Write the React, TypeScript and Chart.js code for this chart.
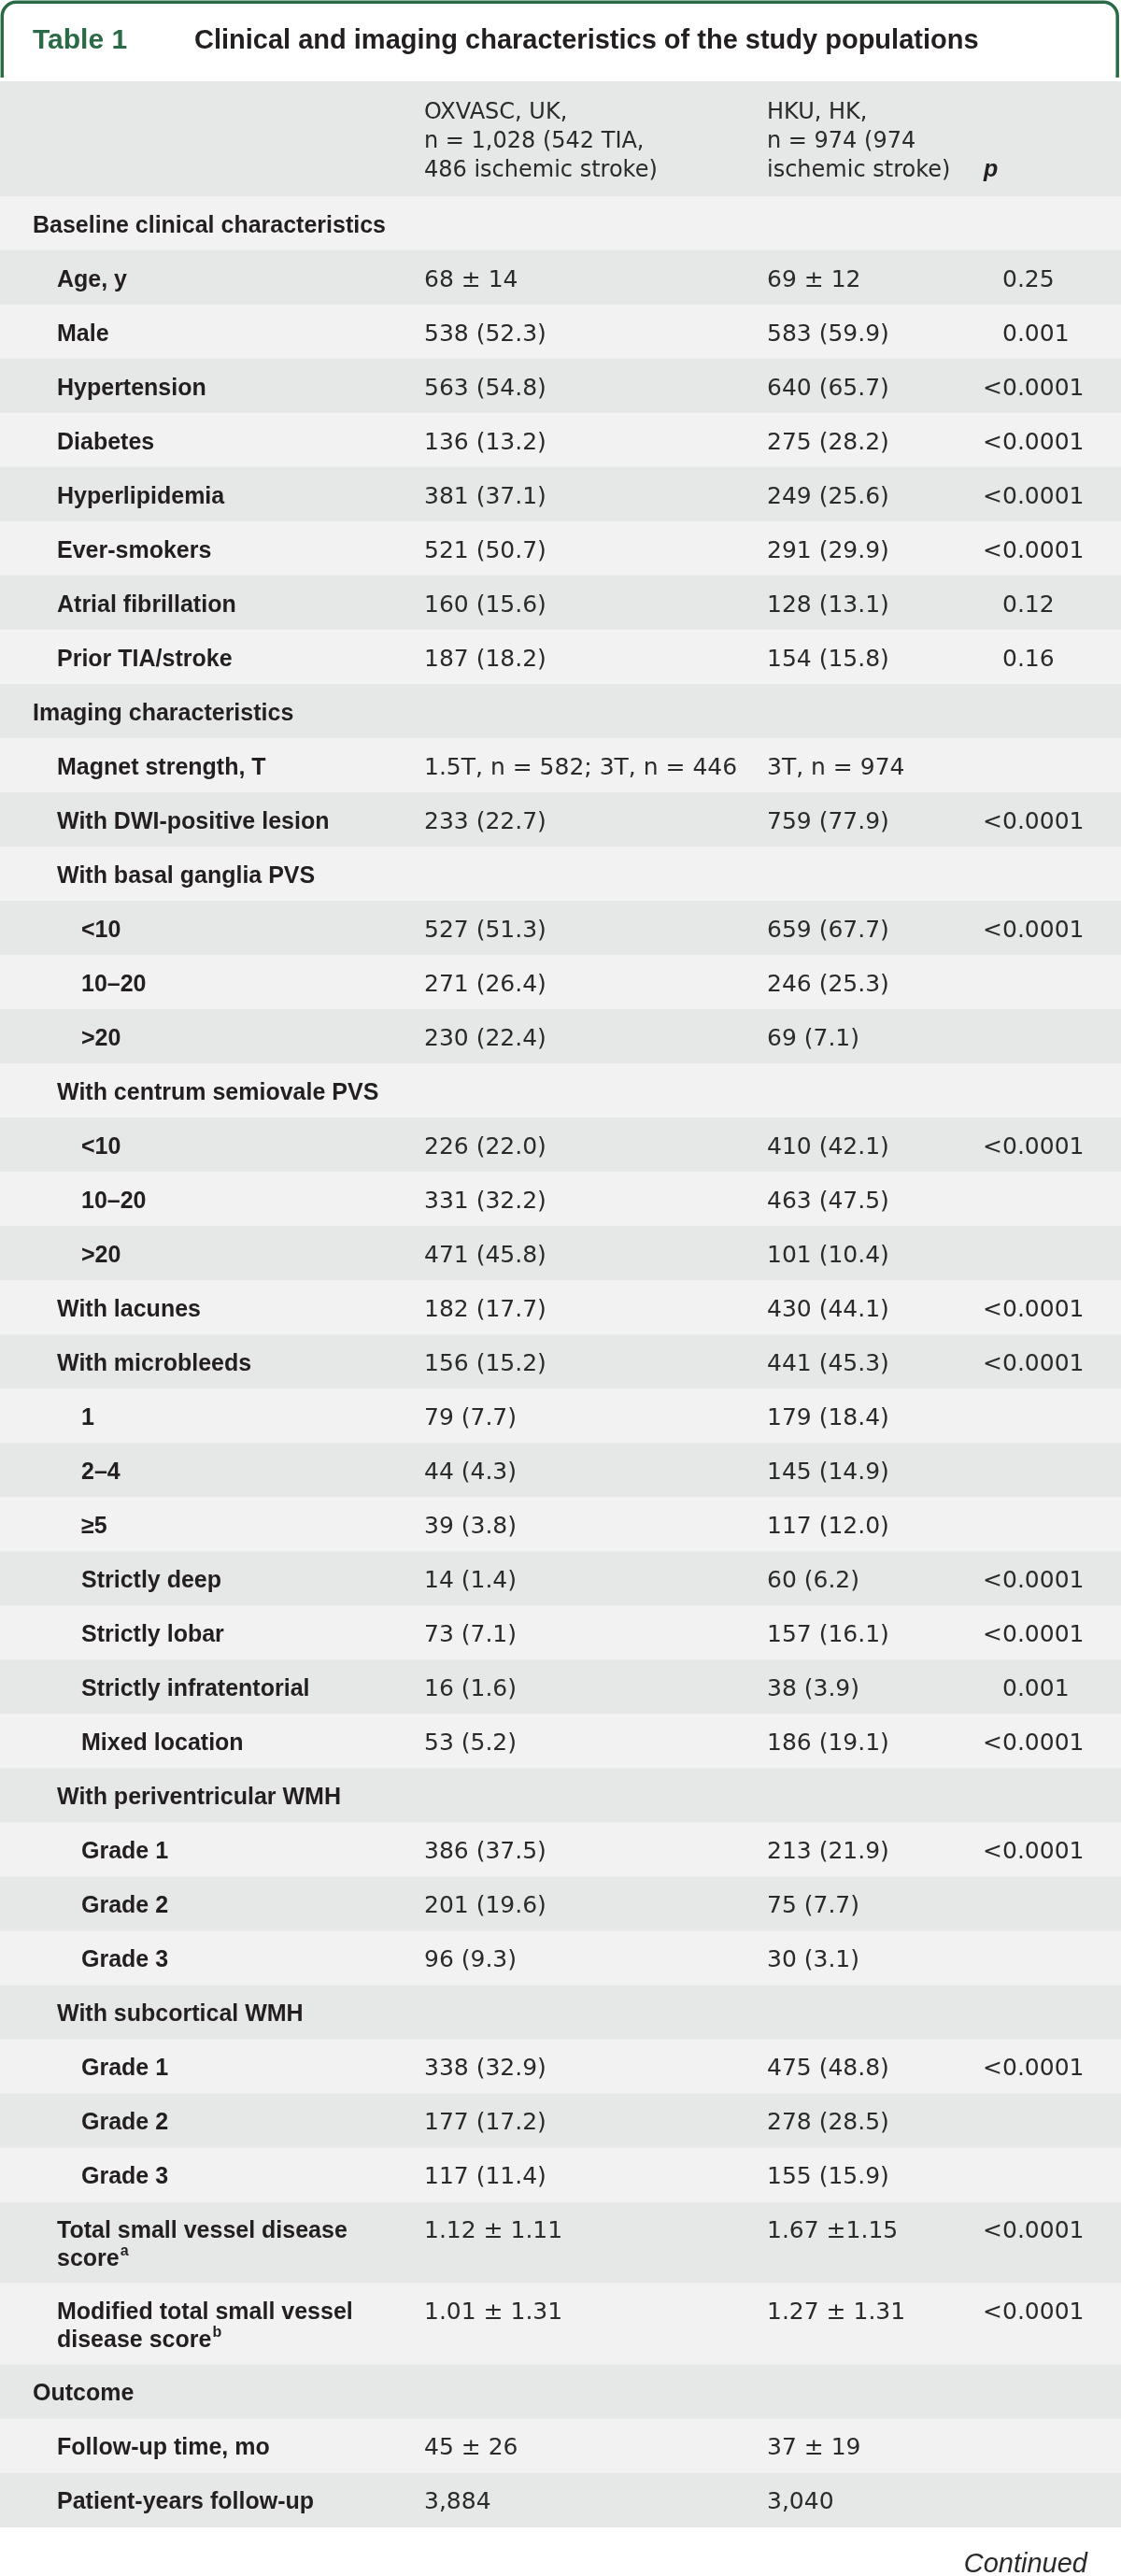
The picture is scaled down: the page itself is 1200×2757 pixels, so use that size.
import React, { useEffect, useRef } from "react";
import { Chart, registerables } from "chart.js";

Chart.register(...registerables);

// ---------------- data ----------------
const tableNumber = "Table 1";
const tableTitle = "Clinical and imaging characteristics of the study populations";
const headerOxvasc = ["OXVASC, UK,", "n = 1,028 (542 TIA,", "486 ischemic stroke)"];
const headerHku = ["HKU, HK,", "n = 974 (974", "ischemic stroke)"];
const headerP = "p";
const continuedNote = "Continued";

const rowLabels = [
  "Baseline clinical characteristics",
  "Age, y",
  "Male",
  "Hypertension",
  "Diabetes",
  "Hyperlipidemia",
  "Ever-smokers",
  "Atrial fibrillation",
  "Prior TIA/stroke",
  "Imaging characteristics",
  "Magnet strength, T",
  "With DWI-positive lesion",
  "With basal ganglia PVS",
  "<10",
  "10–20",
  ">20",
  "With centrum semiovale PVS",
  "<10",
  "10–20",
  ">20",
  "With lacunes",
  "With microbleeds",
  "1",
  "2–4",
  "≥5",
  "Strictly deep",
  "Strictly lobar",
  "Strictly infratentorial",
  "Mixed location",
  "With periventricular WMH",
  "Grade 1",
  "Grade 2",
  "Grade 3",
  "With subcortical WMH",
  "Grade 1",
  "Grade 2",
  "Grade 3",
  "Total small vessel disease\nscore",
  "Modified total small vessel\ndisease score",
  "Outcome",
  "Follow-up time, mo",
  "Patient-years follow-up",
];

// 0 = section heading, 1 = variable, 2 = sub-category
const rowLevels = [
  0, 1, 1, 1, 1, 1, 1, 1, 1,
  0, 1, 1, 1, 2, 2, 2, 1, 2, 2, 2, 1, 1, 2, 2, 2, 2, 2, 2, 2,
  1, 2, 2, 2, 1, 2, 2, 2, 1, 1,
  0, 1, 1,
];

const footnoteMarks: Record<string, string> = {
  "Total small vessel disease\nscore": "a",
  "Modified total small vessel\ndisease score": "b",
};

const oxvascValues = [
  "", "68 ± 14", "538 (52.3)", "563 (54.8)", "136 (13.2)", "381 (37.1)", "521 (50.7)", "160 (15.6)", "187 (18.2)",
  "", "1.5T, n = 582; 3T, n = 446", "233 (22.7)", "", "527 (51.3)", "271 (26.4)", "230 (22.4)",
  "", "226 (22.0)", "331 (32.2)", "471 (45.8)", "182 (17.7)", "156 (15.2)", "79 (7.7)", "44 (4.3)", "39 (3.8)",
  "14 (1.4)", "73 (7.1)", "16 (1.6)", "53 (5.2)",
  "", "386 (37.5)", "201 (19.6)", "96 (9.3)", "", "338 (32.9)", "177 (17.2)", "117 (11.4)",
  "1.12 ± 1.11", "1.01 ± 1.31", "", "45 ± 26", "3,884",
];

const hkuValues = [
  "", "69 ± 12", "583 (59.9)", "640 (65.7)", "275 (28.2)", "249 (25.6)", "291 (29.9)", "128 (13.1)", "154 (15.8)",
  "", "3T, n = 974", "759 (77.9)", "", "659 (67.7)", "246 (25.3)", "69 (7.1)",
  "", "410 (42.1)", "463 (47.5)", "101 (10.4)", "430 (44.1)", "441 (45.3)", "179 (18.4)", "145 (14.9)", "117 (12.0)",
  "60 (6.2)", "157 (16.1)", "38 (3.9)", "186 (19.1)",
  "", "213 (21.9)", "75 (7.7)", "30 (3.1)", "", "475 (48.8)", "278 (28.5)", "155 (15.9)",
  "1.67 ±1.15", "1.27 ± 1.31", "", "37 ± 19", "3,040",
];

const pValues = [
  "", "0.25", "0.001", "<0.0001", "<0.0001", "<0.0001", "<0.0001", "0.12", "0.16",
  "", "", "<0.0001", "", "<0.0001", "", "",
  "", "<0.0001", "", "", "<0.0001", "<0.0001", "", "", "",
  "<0.0001", "<0.0001", "0.001", "<0.0001",
  "", "<0.0001", "", "", "", "<0.0001", "", "",
  "<0.0001", "<0.0001", "", "", "",
];

// ---------------- layout / style ----------------
const W = 1200;
const H = 2757;
const HEADER_TOP = 87;
const BODY_TOP = 210;
const BODY_BOTTOM = 2705;

const GREEN = "#2b6a47";
const DARK_ROW = "#e6e7e7";
const LIGHT_ROW = "#f2f2f2";
const TEXT = "#231f20";
const VALUE_TEXT = "#2a2a2a";

const LABEL_FONT = 'bold 25px "Liberation Sans", Arial, sans-serif';
const NOTE_FONT = 'bold 16px "Liberation Sans", Arial, sans-serif';
const VALUE_FONT = '25px "DejaVu Sans", sans-serif';
const HEADER_FONT = '24px "DejaVu Sans", sans-serif';
const LABEL_X = [35, 61, 87];
const COL2_X = 454;
const COL3_X = 821;
const P_X = 1073;
const P_HEAD_X = 1053;

// row geometry derived from the number of text lines (half-line units)
const lineCounts = rowLabels.map((l) => l.split("\n").length);
const rowUnits = lineCounts.map((n) => n + 1);
const rowStarts: number[] = [];
let accUnits = 0;
for (const u of rowUnits) {
  rowStarts.push(accUnits);
  accUnits += u;
}
const totalUnits = accUnits;
const UNIT_PX = (BODY_BOTTOM - BODY_TOP) / totalUnits;

const tablePlugin = {
  id: "tableText",
  beforeDatasetsDraw(chart: any) {
    const ctx: CanvasRenderingContext2D = chart.ctx;
    ctx.save();
    // column header band
    ctx.fillStyle = DARK_ROW;
    ctx.fillRect(0, HEADER_TOP, W, BODY_TOP - HEADER_TOP);

    // green frame around the title
    ctx.strokeStyle = GREEN;
    ctx.lineWidth = 3.5;
    const l = 2.3, r = 1196.2, t = 2.3, b = 83, rad = 15;
    ctx.beginPath();
    ctx.moveTo(l, b);
    ctx.lineTo(l, t + rad);
    ctx.arcTo(l, t, l + rad, t, rad);
    ctx.lineTo(r - rad, t);
    ctx.arcTo(r, t, r, t + rad, rad);
    ctx.lineTo(r, b);
    ctx.stroke();

    // title
    ctx.textBaseline = "alphabetic";
    ctx.textAlign = "left";
    ctx.fillStyle = GREEN;
    ctx.font = 'bold 30px "Liberation Sans", Arial, sans-serif';
    ctx.fillText(tableNumber, 35, 52);
    ctx.fillStyle = TEXT;
    ctx.font = 'bold 29px "Liberation Sans", Arial, sans-serif';
    ctx.fillText(tableTitle, 208, 52);

    // column headers
    ctx.font = HEADER_FONT;
    ctx.fillStyle = VALUE_TEXT;
    const hb = [127, 158, 189];
    headerOxvasc.forEach((s, k) => ctx.fillText(s, COL2_X, hb[k]));
    headerHku.forEach((s, k) => ctx.fillText(s, COL3_X, hb[k]));
    ctx.font = 'italic bold 25px "Liberation Sans", Arial, sans-serif';
    ctx.fillStyle = TEXT;
    ctx.fillText(headerP, P_HEAD_X, hb[2]);

    // footer
    ctx.font = 'italic 29px "Liberation Sans", Arial, sans-serif';
    ctx.textAlign = "right";
    ctx.fillStyle = VALUE_TEXT;
    ctx.fillText(continuedNote, 1164, 2753);
    ctx.restore();
  },
  afterDatasetsDraw(chart: any) {
    const ctx: CanvasRenderingContext2D = chart.ctx;
    const yScale = chart.scales.y;
    ctx.save();
    ctx.textBaseline = "alphabetic";
    ctx.textAlign = "left";
    rowLabels.forEach((label, i) => {
      const top = yScale.getPixelForValue(rowStarts[i]);
      const base0 = top + 38.5;
      const lines = label.split("\n");
      const x = LABEL_X[rowLevels[i]];
      ctx.fillStyle = TEXT;
      lines.forEach((ln, k) => {
        const base = base0 + k * 30;
        ctx.font = LABEL_FONT;
        ctx.fillText(ln, x, base);
        const mark = footnoteMarks[label];
        if (mark && k === lines.length - 1) {
          const w = ctx.measureText(ln).width;
          ctx.font = NOTE_FONT;
          ctx.fillText(mark, x + w + 1, base - 11);
        }
      });
      ctx.font = VALUE_FONT;
      ctx.fillStyle = VALUE_TEXT;
      if (oxvascValues[i]) ctx.fillText(oxvascValues[i], COL2_X, base0);
      if (hkuValues[i]) ctx.fillText(hkuValues[i], COL3_X, base0);
      const p = pValues[i];
      if (p) {
        if (p.startsWith("<")) {
          ctx.textAlign = "right";
          ctx.fillText("<", P_X, base0);
          ctx.textAlign = "left";
          ctx.fillText(p.slice(1), P_X, base0);
        } else {
          ctx.fillText(p, P_X, base0);
        }
      }
    });
    ctx.restore();
  },
};

export default function App() {
  const canvasRef = useRef<HTMLCanvasElement>(null);

  useEffect(() => {
    const canvas = canvasRef.current;
    if (!canvas) return;
    const singleRows = rowLabels.map((_, i) => i).filter((i) => lineCounts[i] === 1);
    const doubleRows = rowLabels.map((_, i) => i).filter((i) => lineCounts[i] === 2);
    const centerOf = (i: number) => rowStarts[i] + rowUnits[i] / 2;
    const shade = (i: number) => (i % 2 === 0 ? LIGHT_ROW : DARK_ROW);

    const chart = new Chart(canvas, {
      type: "bar",
      data: {
        datasets: [
          {
            label: "single-line rows",
            data: singleRows.map((i) => ({ x: [0, 1], y: centerOf(i) })) as any,
            backgroundColor: singleRows.map(shade),
            barThickness: UNIT_PX * 2,
            stack: "rows",
            borderWidth: 0,
          },
          {
            label: "two-line rows",
            data: doubleRows.map((i) => ({ x: [0, 1], y: centerOf(i) })) as any,
            backgroundColor: doubleRows.map(shade),
            barThickness: UNIT_PX * 3,
            stack: "rows",
            borderWidth: 0,
          },
        ],
      },
      options: {
        indexAxis: "y",
        animation: false,
        responsive: false,
        maintainAspectRatio: false,
        events: [],
        layout: { padding: { top: BODY_TOP, bottom: H - BODY_BOTTOM, left: 0, right: 0 } },
        plugins: {
          legend: { display: false },
          tooltip: { enabled: false },
          title: { display: false },
        },
        scales: {
          x: { type: "linear", min: 0, max: 1, display: false, offset: false },
          y: { type: "linear", min: 0, max: totalUnits, reverse: true, display: false, offset: false, grid: { offset: false } },
        },
      } as any,
      plugins: [tablePlugin],
    });
    return () => chart.destroy();
  }, []);

  return (
    <div style={{ position: "absolute", left: 0, top: 0, width: W, height: H, background: "#ffffff" }}>
      <canvas ref={canvasRef} width={W} height={H} style={{ display: "block", width: W, height: H }} />
    </div>
  );
}
